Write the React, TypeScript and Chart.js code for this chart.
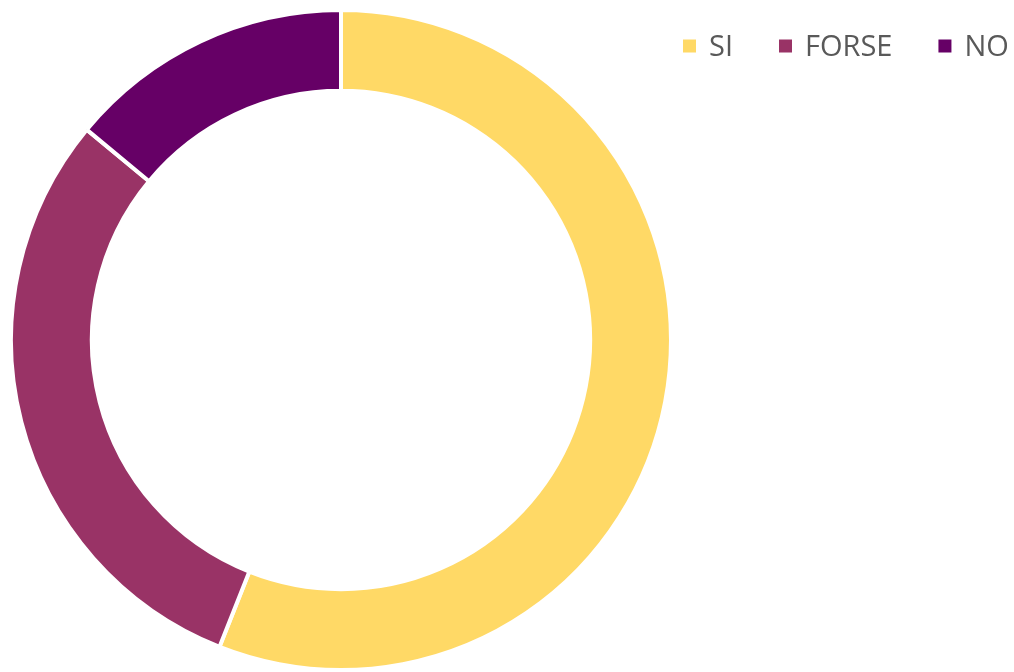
import React, { useEffect, useRef } from "react";
import { Chart, registerables } from "chart.js";

Chart.register(...registerables);

const categories = ["SI", "FORSE", "NO"];
const values = [56, 30, 14];
const colors = ["#FFD966", "#993366", "#660066"];

const topRightLegend = {
  id: "topRightLegend",
  afterDraw(chart: any) {
    const ctx = chart.ctx as CanvasRenderingContext2D;
    const labels = chart.data.labels as string[];
    const ds = chart.data.datasets[0];
    ctx.save();
    ctx.font = '29px "Open Sans"';
    ctx.textBaseline = "alphabetic";
    const box = 13;
    let x = 683;
    labels.forEach((l, i) => {
      ctx.fillStyle = ds.backgroundColor[i];
      ctx.fillRect(x, 39.5, box, box);
      const tx = x + box + 13;
      ctx.fillStyle = "#595959";
      ctx.fillText(l, tx, 56);
      x = tx + ctx.measureText(l).width + 46;
    });
    ctx.restore();
  },
};

export default function App() {
  const ref = useRef<HTMLCanvasElement>(null);
  useEffect(() => {
    document.body.style.margin = "0";
    const chart = new Chart(ref.current!, {
      type: "doughnut",
      data: {
        labels: categories,
        datasets: [
          {
            data: values,
            backgroundColor: colors,
            borderColor: "#ffffff",
            borderWidth: 4,
          },
        ],
      },
      options: {
        animation: false,
        responsive: true,
        maintainAspectRatio: false,
        cutout: "75.5%",
        layout: { padding: { left: 9, right: 341, top: 8, bottom: 0 } },
        plugins: {
          legend: { display: false },
          tooltip: { enabled: false },
        },
      },
      plugins: [topRightLegend],
    });
    return () => chart.destroy();
  }, []);
  return (
    <div style={{ position: "fixed", left: 0, top: 0, width: 1014, height: 672 }}>
      <canvas ref={ref} />
    </div>
  );
}
